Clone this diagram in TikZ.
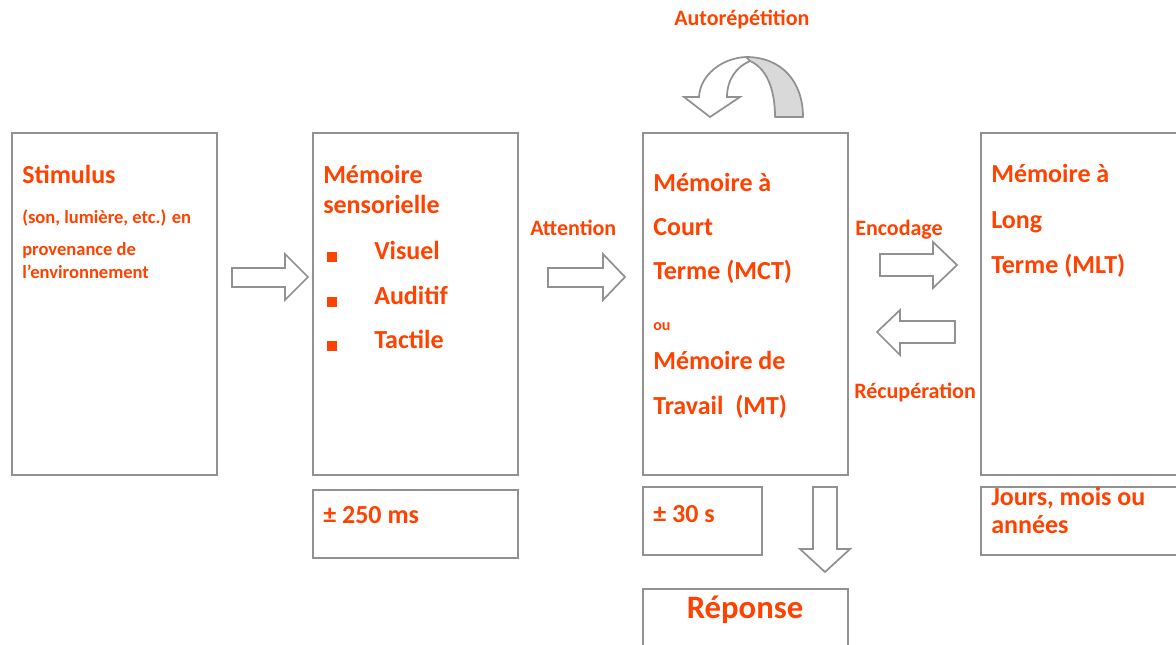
\documentclass[tikz,border=0pt]{standalone}
\usepackage{fontspec}
\setmainfont{Carlito}
\definecolor{txt}{RGB}{255,66,0}
\definecolor{edge}{RGB}{145,145,145}
\definecolor{ribbon}{RGB}{217,217,217}
\begin{document}
\begin{tikzpicture}[x=0.75pt,y=-0.75pt,
  box/.style={draw=edge,line width=1.6pt,fill=white,inner sep=0pt},
  big/.style={anchor=base west,inner sep=0pt,text=txt,font=\bfseries\fontsize{19.5}{22}\selectfont},
  small/.style={anchor=base west,inner sep=0pt,text=txt,font=\bfseries\fontsize{13.9}{16}\selectfont},
  lbl/.style={anchor=base west,inner sep=0pt,text=txt,font=\bfseries\fontsize{16.5}{19}\selectfont},
  blockarrow/.style={draw=edge,line width=1.3pt,fill=white,line join=miter},
  bullet/.style={fill=txt,inner sep=0pt,minimum size=7.5pt}]
\useasboundingbox (0,0) rectangle (1176,644);
\clip (0,0) rectangle (1176,644);

% main boxes
\node[box,minimum width=153.75pt,minimum height=256.5pt] (stim) at (114.5,304) {};
\node[box,minimum width=153.75pt,minimum height=256.5pt] (ms) at (415.5,304) {};
\node[box,minimum width=153.75pt,minimum height=256.5pt] (mct) at (745.5,304) {};
\node[box,minimum width=149.25pt,minimum height=256.5pt] (mlt) at (1080.5,304) {};

% duration boxes and response
\node[box,minimum width=153.75pt,minimum height=51pt] (msdur) at (415.5,524) {};
\node[box,minimum width=89.25pt,minimum height=51pt] (mctdur) at (702.5,521) {};
\node[box,minimum width=149.25pt,minimum height=51pt] (mltdur) at (1080.5,521) {};
\node[box,minimum width=153.75pt,minimum height=45.75pt] (rep) at (745.5,619.5) {};

% stimulus text
\node[big] (t1) at (22,183) {Stimulus};
\node[small] (t2) at (22,223) {(son, lumière, etc.) en};
\node[small] (t3) at (22,255) {provenance de};
\node[small] (t4) at (22,278) {l’environnement};

% sensory memory text
\node[big] (s1) at (323,183) {Mémoire};
\node[big] (s2) at (323,213) {sensorielle};
\node[bullet] (b1) at (332,257) {};
\node[bullet] (b2) at (332,302) {};
\node[bullet] (b3) at (332,346) {};
\node[big] (s3) at (374,259) {Visuel};
\node[big] (s4) at (374,304) {Auditif};
\node[big] (s5) at (374,348) {Tactile};

% short-term memory text
\node[big] (c1) at (653,191) {Mémoire à};
\node[big] (c2) at (653,235) {Court};
\node[big] (c3) at (653,279) {Terme (MCT)};
\node[anchor=base west,inner sep=0pt,text=txt,font=\bfseries\fontsize{12}{14}\selectfont] (c4) at (653,330) {ou};
\node[big] (c5) at (653,369) {Mémoire de};
\node[big] (c6) at (653,414) {Travail\ \ (MT)};

% long-term memory text
\node[big] (l1) at (991,182) {Mémoire à};
\node[big] (l2) at (991,228) {Long};
\node[big] (l3) at (991,273) {Terme (MLT)};

% durations
\node[big] (d1) at (323,523) {± 250 ms};
\node[big] (d2) at (653,522) {± 30 s};
\node[big] (d3) at (991,505) {Jours, mois ou};
\node[big] (d4) at (991,533) {années};
\node[anchor=base,inner sep=0pt,text=txt,font=\bfseries\fontsize{24.5}{28}\selectfont] (r1) at (745,618) {Réponse};

% arrow labels
\node[lbl] (a1) at (530,235) {Attention};
\node[lbl] (a2) at (855,235) {Encodage};
\node[lbl] (a3) at (854,398) {Récupération};
\node[lbl] (a4) at (674,25) {Autorépétition};

% block arrows
\draw[blockarrow] (232,268) -- (285,268) -- (285,254) -- (308,277) -- (285,300) -- (285,287) -- (232,287) -- cycle;
\draw[blockarrow] (548,268) -- (603,268) -- (603,254) -- (625,277) -- (603,300) -- (603,287) -- (548,287) -- cycle;
\draw[blockarrow] (880,254) -- (933,254) -- (933,242) -- (957,265) -- (933,288) -- (933,276) -- (880,276) -- cycle;
\draw[blockarrow] (955,321) -- (900,321) -- (900,310) -- (877,332) -- (900,355) -- (900,343) -- (955,343) -- cycle;
\draw[blockarrow] (813,487) -- (837,487) -- (837,549) -- (850,549) -- (825,572) -- (800,549) -- (813,549) -- cycle;

% rehearsal loop arrow
\draw[draw=edge,line width=1.3pt,fill=ribbon,line join=round]
  (746,57) .. controls (782,57) and (803,82) .. (803,117) -- (775,117)
  .. controls (775,88) and (766,68) .. (750,61) -- cycle;
\draw[draw=edge,line width=1.3pt,fill=white,line join=miter]
  (746,57) .. controls (722,58) and (700,75) .. (699,97) -- (684,97) -- (710,117) -- (740,97) -- (727,97)
  .. controls (727,80) and (736,67) .. (750,61) -- cycle;
\end{tikzpicture}
\end{document}
